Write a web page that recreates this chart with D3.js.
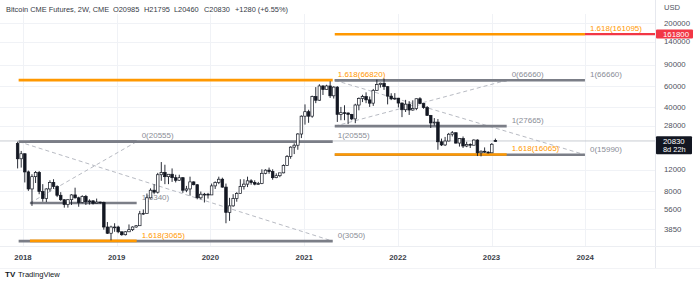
<!DOCTYPE html>
<html><head><meta charset="utf-8">
<script src="https://cdn.jsdelivr.net/npm/d3@7"></script>
<style>
html,body{margin:0;padding:0;background:#fff;}
svg{display:block;font-family:"Liberation Sans",Arial,sans-serif;}
</style></head><body><svg id="c" width="700" height="281"></svg>
<script>
// ---- DATA (2-week bars, Bitcoin CME futures) ----
const dates = [
"2017-12-11","2017-12-25",
"2018-01-08","2018-01-22","2018-02-05","2018-02-19","2018-03-05","2018-03-19","2018-04-02","2018-04-16","2018-04-30","2018-05-14","2018-05-28","2018-06-11","2018-06-25","2018-07-09","2018-07-23","2018-08-06","2018-08-20","2018-09-03","2018-09-17","2018-10-01","2018-10-15","2018-10-29","2018-11-12","2018-11-26","2018-12-10","2018-12-24",
"2019-01-07","2019-01-21","2019-02-04","2019-02-18","2019-03-04","2019-03-18","2019-04-01","2019-04-15","2019-04-29","2019-05-13","2019-05-27","2019-06-10","2019-06-24","2019-07-08","2019-07-22","2019-08-05","2019-08-19","2019-09-02","2019-09-16","2019-09-30","2019-10-14","2019-10-28","2019-11-11","2019-11-25","2019-12-09","2019-12-23",
"2020-01-06","2020-01-20","2020-02-03","2020-02-17","2020-03-02","2020-03-16","2020-03-30","2020-04-13","2020-04-27","2020-05-11","2020-05-25","2020-06-08","2020-06-22","2020-07-06","2020-07-20","2020-08-03","2020-08-17","2020-08-31","2020-09-14","2020-09-28","2020-10-12","2020-10-26","2020-11-09","2020-11-23","2020-12-07","2020-12-21",
"2021-01-04","2021-01-18","2021-02-01","2021-02-15","2021-03-01","2021-03-15","2021-03-29","2021-04-12","2021-04-26","2021-05-10","2021-05-24","2021-06-07","2021-06-21","2021-07-05","2021-07-19","2021-08-02","2021-08-16","2021-08-30","2021-09-13","2021-09-27","2021-10-11","2021-10-25","2021-11-08","2021-11-22","2021-12-06","2021-12-20",
"2022-01-03","2022-01-17","2022-01-31","2022-02-14","2022-02-28","2022-03-14","2022-03-28","2022-04-11","2022-04-25","2022-05-09","2022-05-23","2022-06-06","2022-06-20","2022-07-04","2022-07-18","2022-08-01","2022-08-15","2022-08-29","2022-09-12","2022-09-26","2022-10-10","2022-10-24","2022-11-07","2022-11-21","2022-12-05","2022-12-19",
"2023-01-02","2023-01-16"];
const open = [
19800,14800,
16300,11500,8300,10500,11400,7900,6900,8300,9400,8700,7350,6750,6150,6750,7400,7000,6400,7200,6500,6600,6300,6450,6400,4000,3550,4000,
4000,3650,3450,3650,3800,4000,4100,5150,5200,7000,8100,7800,10900,11400,10500,11000,10300,9800,10300,8100,8300,9500,9000,7000,7500,7500,
7400,8800,9400,10000,8600,5300,6000,6900,7600,8700,9100,9700,9400,9100,9200,11200,11900,11600,10300,10700,11300,13000,15500,18500,19200,23800,
33500,36500,33500,48800,45500,59800,55800,59800,49500,58500,34700,35800,35600,34700,31800,41500,47000,48800,45800,43000,55000,61500,63000,59000,49200,46700,
47300,43100,37900,42200,37700,38800,46800,42700,39500,34000,29400,29900,20500,19300,20800,23700,24400,20000,21800,18900,19500,19200,21200,16600,17100,16800,
16600,20985];
const high = [
20555,17200,
16400,11800,11000,11700,11700,9100,8400,9800,10000,8900,7800,6800,6800,7500,8500,7150,7350,7400,6800,6700,6900,6500,6500,4400,4100,4300,
4100,3650,3700,4200,4050,4150,5450,5600,7600,8400,9100,11300,13900,13200,11000,12300,10900,10900,10400,8800,10500,9600,9100,7900,7700,7700,
9200,9600,10500,10300,9200,7000,7500,7800,10000,10000,10500,10000,9800,9500,12100,12100,12500,12100,11200,11000,13300,15900,18800,19900,24200,34000,
42000,37900,49700,58500,61800,60600,61200,65500,59500,59500,40000,41300,36000,35000,42500,48000,50500,52900,48800,56500,67500,63700,69000,59500,52000,52100,
47600,43500,45800,44700,45400,47000,48200,42900,40700,34300,32300,31700,21800,22500,24300,25200,24500,22000,22700,20500,19900,21500,21500,17400,18400,17100,
20000,21795];
const low = [
12300,12500,
9400,8000,6000,9300,7500,6500,6450,7900,8300,7100,6600,5800,5800,6100,6900,5900,6300,6100,6150,6150,6300,6250,3800,3500,3100,3650,
3550,3380,3400,3650,3700,3950,4100,5050,5200,6900,7500,7600,9700,9100,9100,9500,9400,9700,7700,7800,7300,8900,6800,6800,6400,6900,
7400,8300,9100,8500,4300,4500,5900,6500,7600,8200,8600,9000,8900,9000,9100,11000,11100,9900,10200,10400,11200,12900,14800,16200,17600,22000,
28500,29500,32500,43000,45000,50300,55800,47500,47000,30000,31000,31000,28800,31000,29300,37500,43900,43000,40000,40800,54500,58000,55500,42000,45600,45700,
39600,32900,36300,34300,37200,37600,42100,38600,33800,26700,28000,17600,18900,18900,20700,22700,19800,18700,18200,18500,18200,19200,15600,15500,16600,16400,
16600,20460];
const close = [
14800,16300,
11500,8300,10500,11400,7900,6900,8300,9400,8700,7350,6750,6150,6750,7400,7000,6400,7200,6500,6600,6300,6450,6400,4000,3550,4000,4000,
3650,3450,3650,3800,4000,4100,5150,5200,7000,8100,7800,10900,11400,10500,11000,10300,9800,10300,8100,8300,9500,9000,7000,7500,7500,7400,
8800,9400,10000,8600,5300,6000,6900,7600,8700,9100,9700,9400,9100,9200,11200,11900,11600,10300,10700,11300,13000,15500,18500,19200,23800,33500,
36500,33500,48800,45500,59800,55800,59800,49500,58500,34700,35800,35600,34700,31800,41500,47000,48800,45800,43000,55000,61500,63000,59000,49200,46700,47300,
43100,37900,42200,37700,38800,46800,42700,39500,34000,29400,29900,20500,19300,20800,23700,24400,20000,21800,18900,19500,19200,21200,16600,17100,16800,16600,
19550,20830];

const priceTicks = [200000,140000,90000,60000,40000,28000,12000,8000,5600,3850];
const yearTicks = ["2018","2019","2020","2021","2022","2023","2024"];

// Fibonacci drawings: anchors (dates), diagonal endpoints, levels [ratio, value]
const fibStart = ["2017-12-15","2018-01-28","2021-04-30","2021-04-30"];
const fibEnd   = ["2021-04-22","2019-03-20","2023-03-01","2023-12-31"];
const fibDiagFrom = [20555, 6340, 27665, 66660];
const fibDiagTo   = [3050, 20555, 66660, 15990];
const fibLevels = [
  [[0,3050],[1,20555],[1.618,66820]],
  [[0,20555],[1,6340],[1.618,3065]],
  [[0,66660],[1,27665],[1.618,16065]],
  [[0,15990],[1,66660],[1.618,161095]]
];
const alertPrice = 161800;
const lastPrice = 20830;
const lastCountdown = "8d 22h";
const header = ["Bitcoin CME Futures, 2W, CME","O20985","H21795","L20460","C20830","+1280 (+6.55%)"];

// ---- CHART ----
const W = 700, H = 281, plotR = 655, plotB = 246;
const svg = d3.select("#c");
const parse = d3.utcParse("%Y-%m-%d");
const x = d3.scaleUtc().domain([parse("2018-01-01"), parse("2024-01-01")]).range([23, 585.2]);
const y = d3.scaleLog().domain([200000, 3850]).range([23, 229]);

const GREY = "#7b7e87", ORANGE = "#ff9800", TXT = "#363a45";

// grid
const g = svg.append("g");
g.selectAll(".hg").data(priceTicks).join("line")
  .attr("x1",0).attr("x2",plotR).attr("y1",d=>Math.round(y(d))+0.5).attr("y2",d=>Math.round(y(d))+0.5)
  .attr("stroke","#f0f2f6").attr("stroke-width",1);
g.selectAll(".vg").data(yearTicks).join("line")
  .attr("x1",d=>Math.round(x(parse(d+"-01-01")))+0.5).attr("x2",d=>Math.round(x(parse(d+"-01-01")))+0.5)
  .attr("y1",14).attr("y2",plotB).attr("stroke","#f0f2f6").attr("stroke-width",1);

// axis frame lines
svg.append("line").attr("x1",plotR+0.5).attr("x2",plotR+0.5).attr("y1",0).attr("y2",268).attr("stroke","#e6e8ee");
svg.append("line").attr("x1",0).attr("x2",W).attr("y1",plotB+0.5).attr("y2",plotB+0.5).attr("stroke","#eceef2");
svg.append("line").attr("x1",0).attr("x2",W).attr("y1",268.5).attr("y2",268.5).attr("stroke","#f2f3f6");

// current price line
svg.append("line").attr("x1",0).attr("x2",plotR).attr("y1",y(lastPrice)).attr("y2",y(lastPrice))
  .attr("stroke","#c3c6cd").attr("stroke-width",0.9);

// fib diagonals
const fibIdx = d3.range(fibStart.length);
svg.selectAll(".diag").data(fibIdx).join("line")
  .attr("x1",i=>x(parse(fibStart[i]))).attr("y1",i=>y(fibDiagFrom[i]))
  .attr("x2",i=>x(parse(fibEnd[i]))).attr("y2",i=>y(fibDiagTo[i]))
  .attr("stroke","#b8bbc3").attr("stroke-width",1).attr("stroke-dasharray","4,3");

// fib level lines: grey first, then orange on top
const levelRows = [];
fibIdx.forEach(i => fibLevels[i].forEach(([r,v]) => levelRows.push({i, r, v})));
const sorted = levelRows.slice().sort((a,b)=> (a.r===1.618) - (b.r===1.618));
svg.selectAll(".lvl").data(sorted).join("line")
  .attr("x1",d=>x(parse(fibStart[d.i]))).attr("x2",d=>x(parse(fibEnd[d.i])))
  .attr("y1",d=>y(d.v)).attr("y2",d=>y(d.v))
  .attr("stroke",d=>d.r===1.618?ORANGE:GREY).attr("stroke-width",2.6);

// alert line (red)
svg.append("line").attr("x1",x(parse(fibEnd[3]))).attr("x2",plotR).attr("y1",y(alertPrice)).attr("y2",y(alertPrice))
  .attr("stroke","#f23645").attr("stroke-width",2.2);

// level labels
svg.selectAll(".lbl").data(levelRows).join("text")
  .attr("x",d=>x(parse(fibEnd[d.i]))+5).attr("y",d=>y(d.v)-6).attr("dy","0.35em")
  .attr("font-size",8).attr("fill",d=>d.r===1.618?ORANGE:"#8a8d96")
  .text(d=>`${d.r}(${d.v})`);

// candles
const bars = dates.map((d,i)=>({t:parse(d),o:open[i],h:high[i],l:low[i],c:close[i]}));
const bw = 2.6;
const cg = svg.append("g");
cg.selectAll(".wick").data(bars).join("line")
  .attr("x1",d=>x(d.t)).attr("x2",d=>x(d.t)).attr("y1",d=>y(d.h)).attr("y2",d=>y(d.l))
  .attr("stroke","#131722").attr("stroke-width",0.9);
cg.selectAll(".body").data(bars).join("rect")
  .attr("x",d=>x(d.t)-bw/2).attr("width",bw)
  .attr("y",d=>y(Math.max(d.o,d.c))).attr("height",d=>Math.max(0.8,Math.abs(y(d.o)-y(d.c))))
  .attr("fill",d=>d.c>=d.o?"#ffffff":"#131722").attr("stroke","#131722").attr("stroke-width",0.7);

// header
const hx = [6,113,144,174,204,235];
svg.selectAll(".hdr").data(header).join("text")
  .attr("x",(d,i)=>hx[i]).attr("y",9).attr("dy","0.35em").attr("font-size",7.4).attr("fill",TXT).text(d=>d);

// price axis
svg.append("text").attr("x",664).attr("y",7).attr("dy","0.35em").attr("font-size",7.6).attr("fill","#50535e").text("USD");
svg.selectAll(".pt").data(priceTicks).join("text")
  .attr("x",664).attr("y",d=>y(d)).attr("dy","0.35em").attr("font-size",7.8).attr("fill","#50535e").text(d=>d);

// alert price label
const ay = y(alertPrice);
svg.append("rect").attr("x",656).attr("y",ay-4.5).attr("width",37).attr("height",9).attr("rx",1).attr("fill","#f23645");
svg.append("text").attr("x",663).attr("y",ay).attr("dy","0.35em").attr("font-size",7.8).attr("fill","#fff").text(alertPrice);

// last price label
const ly = y(lastPrice);
svg.append("rect").attr("x",656).attr("y",ly-4.8).attr("width",36).attr("height",18).attr("rx",1).attr("fill","#131722");
svg.append("text").attr("x",663).attr("y",ly).attr("dy","0.35em").attr("font-size",7.8).attr("fill","#fff").text(lastPrice);
svg.append("text").attr("x",663).attr("y",ly+8).attr("dy","0.35em").attr("font-size",7.4).attr("fill","#fff").text(lastCountdown);

// time axis
svg.selectAll(".yt").data(yearTicks).join("text")
  .attr("x",d=>x(parse(d+"-01-01"))).attr("y",257).attr("dy","0.35em").attr("text-anchor","middle")
  .attr("font-size",7.8).attr("font-weight","bold").attr("fill","#3a3e49").text(d=>d);

// TradingView logo
svg.append("text").attr("x",5).attr("y",274).attr("dy","0.35em").attr("font-size",8).attr("font-weight","bold").attr("fill","#131722").text("TV");
svg.append("text").attr("x",18).attr("y",274).attr("dy","0.35em").attr("font-size",7.6).attr("fill","#131722").text("TradingView");
</script></body></html>
